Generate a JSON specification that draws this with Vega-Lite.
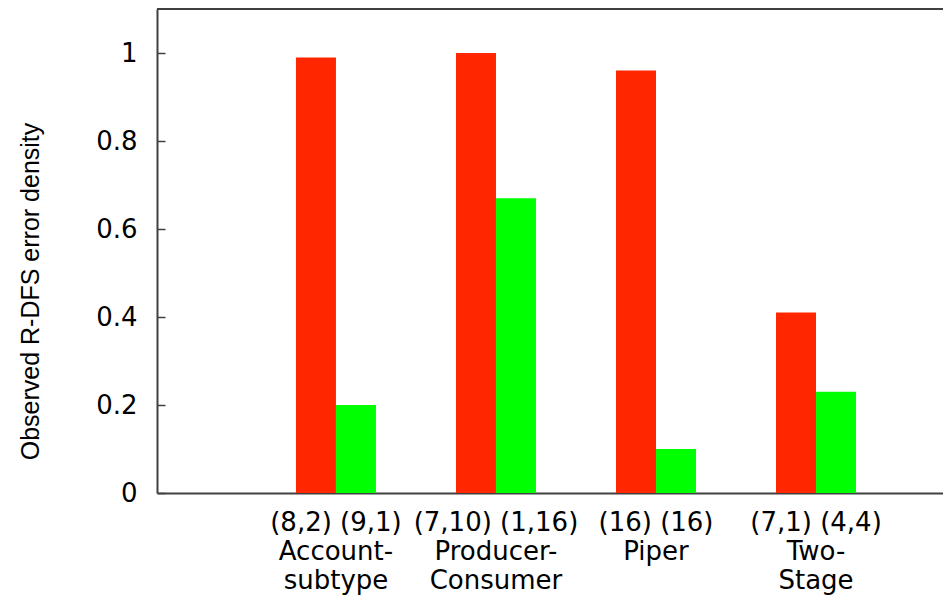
{
  "$schema": "https://vega.github.io/schema/vega-lite/v6.json",
  "width": 786,
  "height": 484,
  "autosize": {"type": "none"},
  "padding": {"left": 157, "top": 9, "right": 0, "bottom": 112},
  "config": {"view": {"stroke": null}, "font": "Liberation Sans", "background": "white"},
  "data": {
    "values": [
      {"workload": "(8,2) (9,1)|Account-|subtype", "series": "a", "density": 0.99},
      {"workload": "(8,2) (9,1)|Account-|subtype", "series": "b", "density": 0.2},
      {"workload": "(7,10) (1,16)|Producer-|Consumer", "series": "a", "density": 1.0},
      {"workload": "(7,10) (1,16)|Producer-|Consumer", "series": "b", "density": 0.67},
      {"workload": "(16) (16)|Piper", "series": "a", "density": 0.96},
      {"workload": "(16) (16)|Piper", "series": "b", "density": 0.1},
      {"workload": "(7,1) (4,4)|Two-|Stage", "series": "a", "density": 0.41},
      {"workload": "(7,1) (4,4)|Two-|Stage", "series": "b", "density": 0.23}
    ]
  },
  "layer": [
    {
      "mark": {"type": "bar"},
      "encoding": {
        "x": {
          "field": "workload",
          "type": "nominal",
          "sort": null,
          "scale": {"paddingInner": 0.5, "paddingOuter": 0.706, "align": 0.615},
          "axis": {
            "title": null,
            "labelAngle": 0,
            "ticks": false,
            "labelExpr": "split(datum.label, '|')",
            "labelFont": "DejaVu Sans",
            "labelFontSize": 26,
            "labelLineHeight": 29,
            "labelPadding": 16,
            "labelColor": "black",
            "domainColor": "#404040",
            "domainWidth": 2,
            "grid": false
          }
        },
        "xOffset": {"field": "series", "type": "nominal", "scale": {"paddingInner": 0, "paddingOuter": 0}},
        "y": {
          "field": "density",
          "type": "quantitative",
          "scale": {"domain": [0, 1.1], "nice": false},
          "axis": {
            "title": "Observed R-DFS error density",
            "titleFontSize": 25,
            "titleFontWeight": "normal",
            "titleColor": "black",
            "titleX": -127,
            "titleY": 282,
            "titleBaseline": "middle",
            "values": [0, 0.2, 0.4, 0.6, 0.8, 1],
            "labelExpr": "'' + datum.value",
            "labelFont": "DejaVu Sans",
            "labelFontSize": 26,
            "labelColor": "black",
            "labelPadding": 28,
            "tickSize": -8,
            "tickColor": "#404040",
            "tickWidth": 1.5,
            "domainColor": "#404040",
            "domainWidth": 2,
            "grid": false
          }
        },
        "color": {"field": "series", "type": "nominal", "scale": {"range": ["#ff2600", "#00ff00"]}, "legend": null}
      }
    },
    {
      "mark": {"type": "rule", "color": "#404040", "strokeWidth": 2},
      "encoding": {"y": {"datum": 1.1}}
    }
  ]
}
